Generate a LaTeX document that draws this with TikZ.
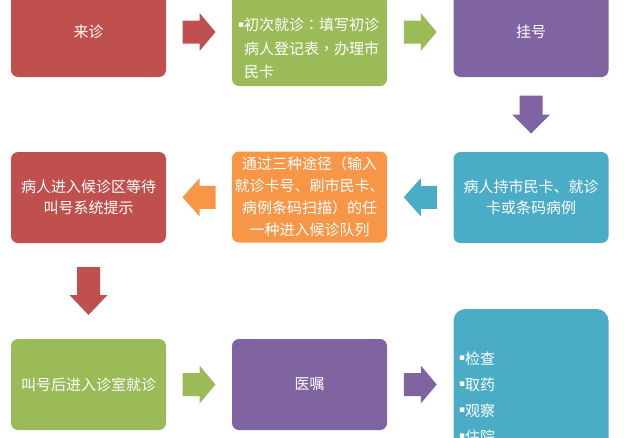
\documentclass[tikz,border=0pt]{standalone}
\usepackage{fontspec}
\setmainfont{Noto Sans CJK SC}
\newfontfamily\symfont{DejaVu Sans}
\newfontfamily\tcfont{Noto Sans CJK TC}
\usetikzlibrary{calc}
\definecolor{cred}{HTML}{C0504D}
\definecolor{cgreen}{HTML}{9BBB59}
\definecolor{cpurple}{HTML}{8064A2}
\definecolor{cblue}{HTML}{4BACC6}
\definecolor{corange}{HTML}{F79646}
\newcommand{\bul}{\raisebox{3.5pt}{\symfont\fontsize{9}{9}\selectfont ▪}}
\tikzset{
 box/.style={rounded corners=7pt, minimum width=155pt, minimum height=91pt, inner sep=0pt, text=white, align=center, font=\fontsize{15}{21}\selectfont},
 btext/.style={inner sep=0pt, text=white, align=left},
 pics/barrow/.style n args={3}{code={
   \fill[#3] ({-(#1+#2)/2},-11.5) -- ({-(#1+#2)/2+#1},-11.5) -- ({-(#1+#2)/2+#1},-19) -- ({(#1+#2)/2},0) -- ({-(#1+#2)/2+#1},19) -- ({-(#1+#2)/2+#1},11.5) -- ({-(#1+#2)/2},11.5) -- cycle;
 }}
}
\begin{document}
\begin{tikzpicture}[x=1pt,y=-1pt]
\useasboundingbox (0,0) rectangle (624,437);
\clip (0,0) rectangle (624,437);
% row 1
\node[box, fill=cred, minimum height=90pt] (r1) at (88.5,32) {来诊};
\node[box, fill=cgreen] (g1) at (309.5,40.5) {};
\node[btext, anchor=west, font=\fontsize{15}{23.5}\selectfont] (g1t) at (244,48.5) {\llap{\bul}初次就诊{\tcfont ：}填写初诊\\病人登记表{\tcfont ，}办理市\\民卡};
\node[box, fill=cpurple, minimum height=90pt] (p1) at (531,32) {挂号};
% row 2
\node[box, fill=cred] (r2) at (88.5,197.5) {病人进入候诊区等待\\叫号系统提示};
\node[box, fill=corange, font=\fontsize{15}{22}\selectfont] (o2) at (309.5,197) {通过三种途径（输入\\就诊卡号、刷市民卡、\\病例条码扫描）的任\\一种进入候诊队列};
\node[box, fill=cblue] (b2) at (531,197.5) {病人持市民卡、就诊\\卡或条码病例};
% row 3
\node[box, fill=cgreen] (g3) at (88.5,384.5) {叫号后进入诊室就诊};
\node[box, fill=cpurple] (p3) at (309.5,384.5) {医嘱};
\node[box, fill=cblue, minimum height=180pt, rounded corners=12pt] (b3) at (531,399) {};
\node[btext, anchor=west, font=\fontsize{15}{26}\selectfont] (b3t) at (465,397.5) {\llap{\bul}检查\\\llap{\bul}取药\\\llap{\bul}观察\\\llap{\bul}住院};
% block arrows
\pic at ($(r1.east)!0.5!(r1.east -| g1.west)$) {barrow={17}{16}{cred}};
\pic at ($(p1.west -| g1.east)!0.5!(p1.west)$) {barrow={17}{16}{cgreen}};
\pic[rotate=-90] at ($(p1.south)!0.5!(b2.north)$) {barrow={19}{19}{cpurple}};
\pic[rotate=180] at ($(o2.east)!0.5!(b2.west)$) {barrow={16}{17}{cblue}};
\pic[rotate=180] at ($(r2.east)!0.5!(o2.west)$) {barrow={16}{17}{corange}};
\pic[rotate=-90] at ($(r2.south)!0.5!(g3.north)$) {barrow={28}{20}{cred}};
\pic at ($(g3.east)!0.5!(p3.west)$) {barrow={17}{16}{cgreen}};
\pic at ($(p3.east)!0.5!(p3.east -| b3.west)$) {barrow={17}{16}{cpurple}};
\end{tikzpicture}
\end{document}
